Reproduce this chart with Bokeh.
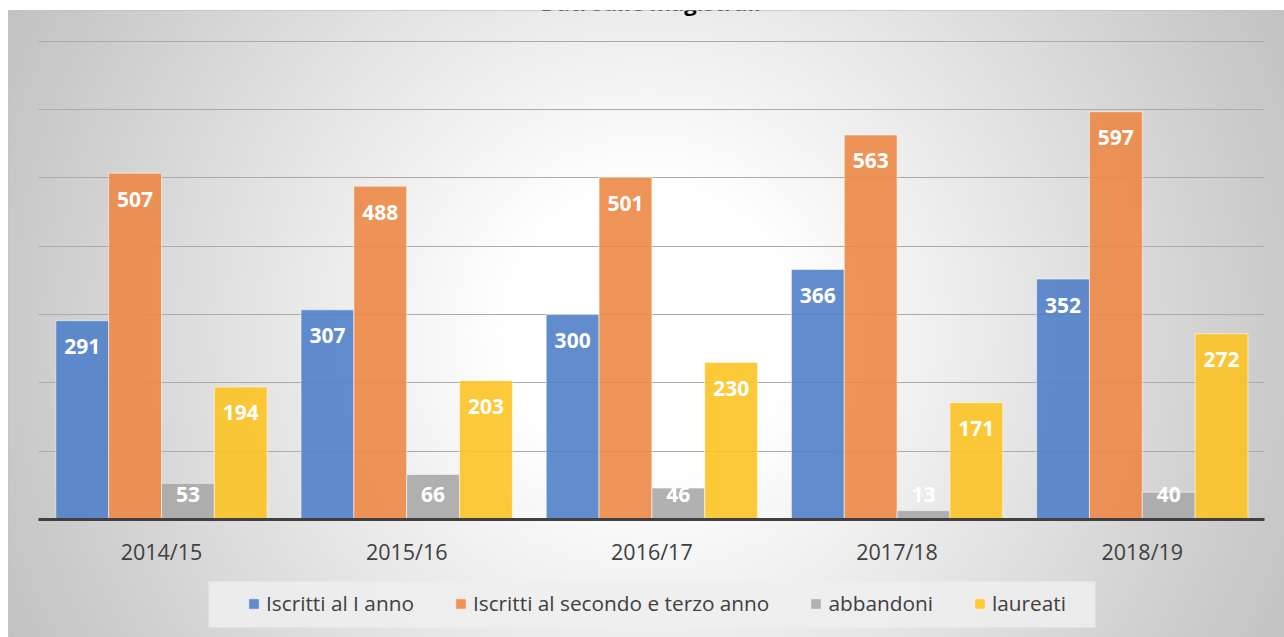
import numpy as np
from bokeh.plotting import figure
from bokeh.models import (ColumnDataSource, Range1d, FixedTicker, Legend, LegendItem,
                          BoxAnnotation, Label)
from bokeh.core.properties import value
from bokeh.embed import file_html
from bokeh.resources import INLINE

# ---- data ----
years = ["2014/15", "2015/16", "2016/17", "2017/18", "2018/19"]
iscritti_primo = [291, 307, 300, 366, 352]
iscritti_secondo_terzo = [507, 488, 501, 563, 597]
abbandoni = [53, 66, 46, 13, 40]
laureati = [194, 203, 230, 171, 272]
series_names = ["Iscritti al I anno", "Iscritti al secondo e terzo anno", "abbandoni", "laureati"]
series_values = [iscritti_primo, iscritti_secondo_terzo, abbandoni, laureati]
series_colors = ["#5080C8", "#EC8846", "#A8A8A8", "#FCC322"]
title_text = "Dati sulle magistrali"
grid_ticks = [100, 200, 300, 400, 500, 600, 700]

# ---- layout ----
W, H = 1284, 637
TOP, LEFT = 10, 8
FW, FH = W - LEFT, H - TOP
x0, x1 = -0.624, 4.580
y0, y1 = -172.8, 745.2
step = 0.2155

p = figure(width=W, height=H, output_backend="svg", toolbar_location=None,
           x_range=Range1d(x0, x1), y_range=Range1d(y0, y1),
           y_axis_location=None, min_border_top=TOP, min_border_left=LEFT,
           min_border_right=0, min_border_bottom=0,
           border_fill_color="white", outline_line_color="#C4C4C4",
           background_fill_color="#E0E0E0")

# radial gradient background (style only)
GW, GH = 319, 157
px = LEFT + (np.arange(GW) + 0.5) * FW / GW
py = H - (np.arange(GH) + 0.5) * FH / GH
PX, PY = np.meshgrid(px, py)
d = np.hypot(PX - 648, PY - 330)
shade = 255 - 62 * np.clip((d - 140) / 580, 0, 1)
img = np.empty((GH, GW), dtype=np.uint32)
v = img.view(dtype=np.uint8).reshape((GH, GW, 4))
s8 = np.round(shade).astype(np.uint8)
v[:, :, 0] = s8
v[:, :, 1] = s8
v[:, :, 2] = s8
v[:, :, 3] = 255
p.image_rgba(image=[img], x=x0, y=y0, dw=x1 - x0, dh=y1 - y0, level="image")

# grid
p.xgrid.visible = False
p.ygrid.ticker = FixedTicker(ticks=grid_ticks)
p.ygrid.grid_line_color = "#ABABAB"
p.ygrid.grid_line_width = 1
try:
    p.ygrid.cross_bounds = (-0.5, 4.5)
except Exception:
    pass

# bars
offsets = [(-1.5 + k) * step for k in range(4)]
renderers = []
for k, (name, vals, color) in enumerate(zip(series_names, series_values, series_colors)):
    xs = [i + offsets[k] for i in range(len(years))]
    src = ColumnDataSource(dict(
        x=xs, top=vals,
        label=[str(val) for val in vals],
        ly=[max(val - 38, 36.6) for val in vals],
    ))
    r = p.vbar(x="x", top="top", bottom=0, width=step, source=src,
               fill_color=color, fill_alpha=0.9,
               line_color="white", line_alpha=0.55, line_width=1)
    renderers.append(r)
    p.text(x="x", y="ly", text="label", source=src,
           text_align="center", text_baseline="middle",
           text_color="white", text_font=value("Open Sans"),
           text_font_style="bold", text_font_size="21px")

# x axis as baseline
ax = p.xaxis[0]
ax.fixed_location = 0
ax.ticker = FixedTicker(ticks=list(range(len(years))))
ax.major_label_overrides = {i: yr for i, yr in enumerate(years)}
ax.bounds = (-0.5, 4.5)
ax.axis_line_color = "#404040"
ax.axis_line_width = 3
ax.major_tick_line_color = None
ax.minor_tick_line_color = None
ax.major_label_text_font = "Open Sans"
ax.major_label_text_font_size = "21.5px"
ax.major_label_text_color = "#404040"
ax.major_label_standoff = 12

# legend background box
p.add_layout(BoxAnnotation(left=200, right=1087, bottom=10, top=56,
                           left_units="screen", right_units="screen",
                           bottom_units="screen", top_units="screen",
                           fill_color="#EFEFEF", fill_alpha=0.85,
                           line_color=None, level="annotation"))

legend = Legend(items=[LegendItem(label=n, renderers=[r]) for n, r in zip(series_names, renderers)],
                orientation="horizontal", location=(239, 20),
                padding=0, margin=0, spacing=40,
                glyph_width=13, glyph_height=13, label_standoff=6,
                label_height=24,
                label_text_font="Open Sans", label_text_font_size="20.8px",
                label_text_color="#404040",
                border_line_color=None, background_fill_alpha=0)
p.add_layout(legend, "center")

# title (cut by the top edge, as in the reference)
p.add_layout(Label(x=650 - LEFT, y=FH + 9, x_units="screen", y_units="screen",
                   text=title_text, text_align="center", text_baseline="alphabetic",
                   text_font="Open Sans", text_font_style="bold", text_font_size="22px",
                   text_color="#000000"))

open("out.html", "w").write(file_html(p, INLINE))
